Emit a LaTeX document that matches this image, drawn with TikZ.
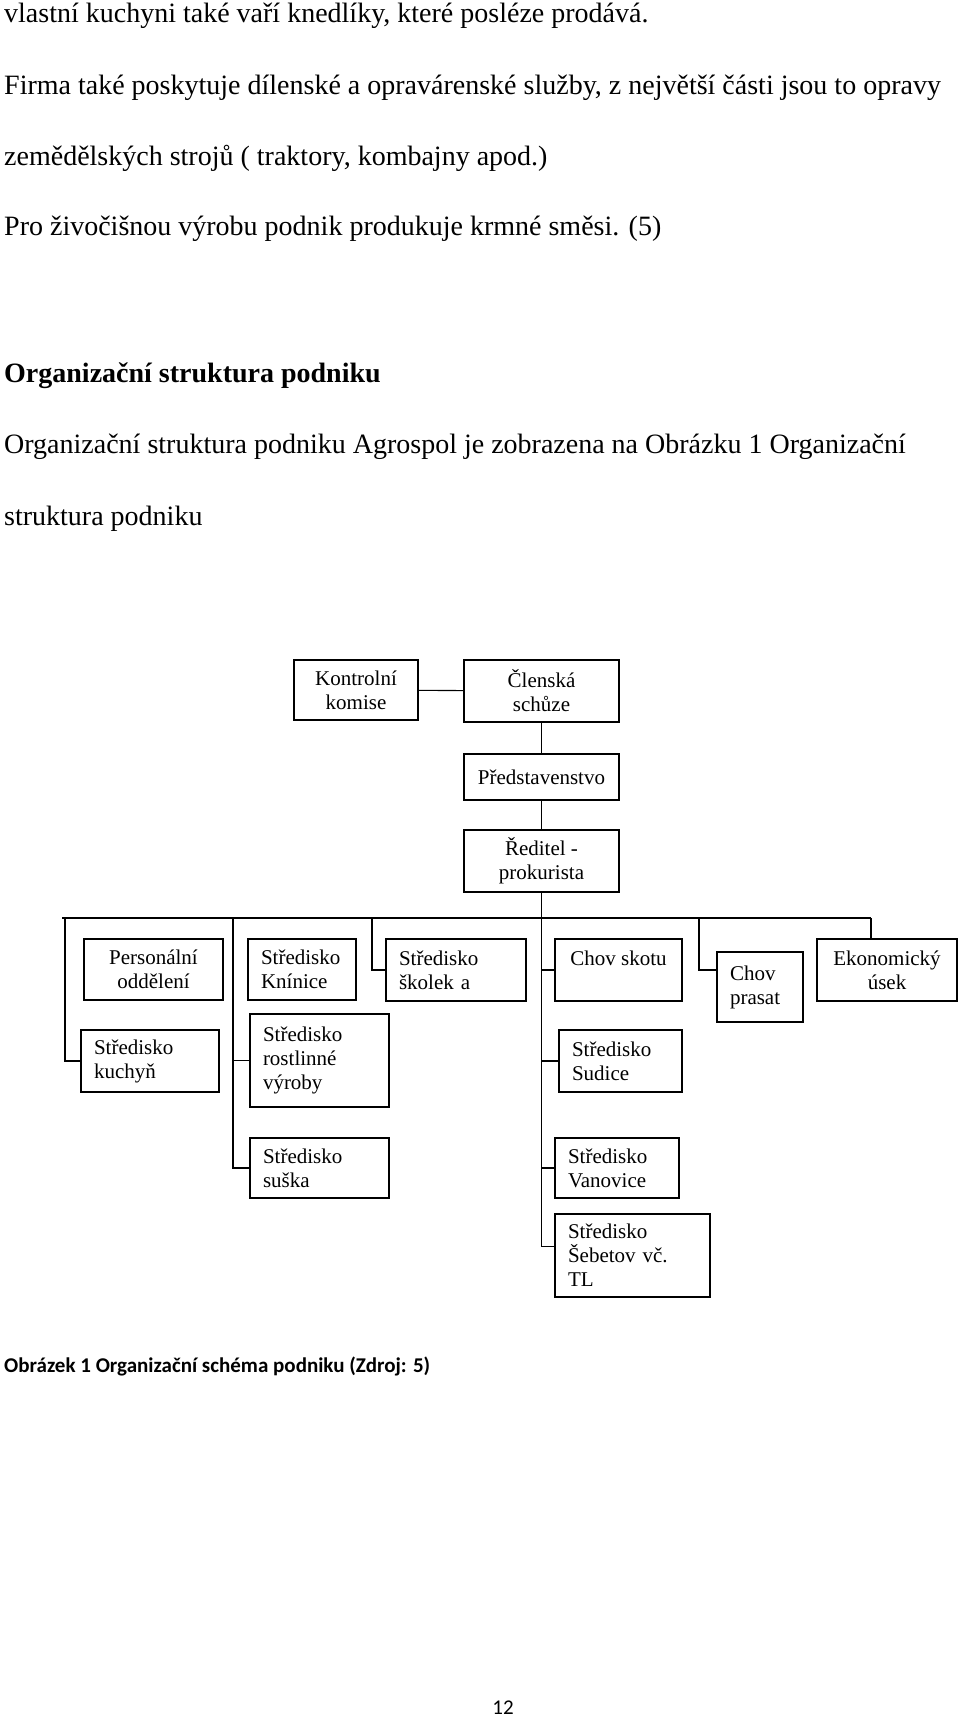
\documentclass[tikz,border=0pt]{standalone}
\usepackage{fontspec}
\setmainfont{Liberation Serif}
\newfontfamily\capfont{Carlito}
\usetikzlibrary{positioning}

\begin{document}
\begin{tikzpicture}[x=1pt,y=-1pt,
  txt/.style={anchor=base west,inner sep=0pt,font=\fontsize{28}{33}\selectfont},
  box/.style={draw,line width=1.3pt,inner xsep=13pt,inner ysep=3pt,font=\fontsize{21}{24}\selectfont},
  cbox/.style={box,align=center},
  lbox/.style={box,align=left},
  link/.style={line width=1.1pt}]
\useasboundingbox (0,0) rectangle (960,1719);

% 本文
\node[txt] (t1) at (4,22) {vlastní kuchyni také vaří knedlíky, které posléze prodává.};
\node[txt] (t2) at (4,94) {Firma také poskytuje dílenské a opravárenské služby, z největší části jsou to opravy};
\node[txt] (t3) at (4,165) {zemědělských strojů ( traktory, kombajny apod.)};
\node[txt] (t4) at (4,235) {Pro živočišnou výrobu podnik produkuje krmné směsi. (5)};
\node[txt,font=\fontsize{28}{33}\selectfont\bfseries] (nadpis) at (4,382) {Organizační struktura podniku};
\node[txt] (t5) at (4,453) {Organizační struktura podniku Agrospol je zobrazena na Obrázku 1 Organizační};
\node[txt] (t6) at (4,525) {struktura podniku};

% 組織図
\node[cbox,minimum width=124pt,minimum height=60pt] (kontrol) at (356,690) {Kontrolní\\komise};
\node[cbox,minimum width=155pt,minimum height=62pt] (clenska) at (541.5,691) {Členská\\schůze};
\node[cbox,minimum width=155pt,minimum height=46pt] (predst) at (541.5,777) {Představenstvo};
\node[cbox,minimum width=155pt,minimum height=62pt] (reditel) at (541.5,861) {Ředitel -\\prokurista};

\node[cbox,minimum width=139pt,minimum height=61pt] (person) at (153.5,969.5) {Personální\\oddělení};
\node[lbox,text width=82pt,minimum height=61pt] (knin) at (302,969.5) {Středisko\\Knínice};
\node[lbox,text width=114pt,minimum height=62pt] (skolek) at (456,970) {Středisko\\školek a};
\node[cbox,minimum width=127pt,minimum height=62pt] (skot) at (618.5,970) {Chov skotu\\\mbox{}};
\node[lbox,text width=60pt,minimum height=70pt] (prasat) at (760,987) {Chov\\prasat};
\node[cbox,minimum width=140pt,minimum height=62pt] (ekon) at (887,970) {Ekonomický\\úsek};

\node[lbox,text width=112pt,minimum height=62pt] (kuchyn) at (150,1061) {Středisko\\kuchyň};
\node[lbox,text width=113pt,minimum height=93pt] (rostl) at (319.5,1060.5) {Středisko\\rostlinné\\výroby};
\node[lbox,text width=113pt,minimum height=60pt] (suska) at (319.5,1168) {Středisko\\suška};
\node[lbox,text width=97pt,minimum height=62pt] (sudice) at (620.5,1061) {Středisko\\Sudice};
\node[lbox,text width=98pt,minimum height=60pt] (vanov) at (617,1168) {Středisko\\Vanovice};
\node[lbox,text width=129pt,minimum height=83pt] (sebet) at (632.5,1255.5) {Středisko\\Šebetov vč.\\TL};

% 接続線
\coordinate (busL) at (62,918);
\coordinate (busR) at (871,918);
\coordinate (dropA) at (65,918);
\coordinate (dropB) at (233,918);
\coordinate (dropC) at (372,918);
\coordinate (dropD) at (699,918);
\draw[link] (kontrol) -- (clenska);
\draw[link] (clenska) -- (predst);
\draw[link] (predst) -- (reditel);
\draw[link] (reditel.south) |- ([yshift=9pt]sebet.west);
\draw[link] (busL) -- (busR);
\draw[link] (dropA) |- (kuchyn.west);
\draw[link] (dropB) |- (suska.west);
\draw[link] (dropB |- rostl.west) -- (rostl.west);
\draw[link] (dropC) |- (skolek.west);
\draw[link] (reditel.south |- skot.west) -- (skot.west);
\draw[link] (reditel.south |- sudice.west) -- (sudice.west);
\draw[link] (reditel.south |- vanov.west) -- (vanov.west);
\draw[link] (dropD) |- ([yshift=17pt]prasat.west);
\draw[link] (busR) -- (busR |- ekon.north);

% 図の説明
\node[txt,font=\fontsize{21}{25}\selectfont\capfont\bfseries] (popis) at (4,1372) {Obrázek 1 Organizační schéma podniku (Zdroj: 5)};
\node[anchor=base,inner sep=0pt,font=\fontsize{21}{25}\selectfont\capfont] (strana) at (503,1714) {12};
\end{tikzpicture}
\end{document}
